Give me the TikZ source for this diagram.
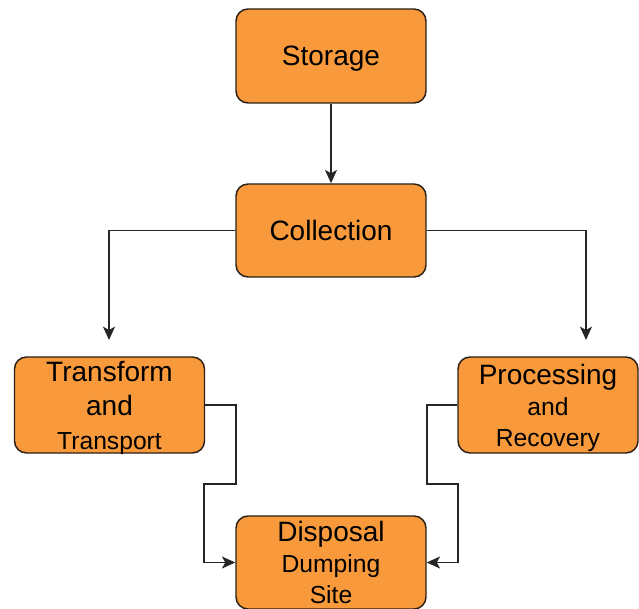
\documentclass[tikz,border=0pt]{standalone}
\usepackage{fontspec}
\setmainfont{Liberation Sans}
\usetikzlibrary{arrows.meta}
\definecolor{boxfill}{HTML}{F8993B}
\definecolor{boxline}{HTML}{2A2018}
\tikzset{
  box/.style={draw=boxline, line width=1.1pt, fill=boxfill, rounded corners=9pt,
    align=center, inner sep=0pt, text=black},
  txt/.style={align=center, inner sep=0pt, text=black},
  big/.style={font=\fontsize{21}{25.5}\selectfont},
  arr/.style={draw=black!85, line width=1.1pt, -{Stealth[length=10pt,width=9pt,inset=2.5pt]}},
}
\begin{document}
\begin{tikzpicture}[x=0.75pt,y=-0.75pt]
\useasboundingbox (0,0) rectangle (639,609);
\node[box,big,minimum width=142.5pt,minimum height=70.5pt,text depth=0pt] (stor) at (331,56) {Storage};
\node[box,big,minimum width=142.5pt,minimum height=69.75pt] (coll) at (331,230.5) {Collection};
\node[box,minimum width=142.5pt,minimum height=72pt] (trans) at (109.5,405) {};
\node[txt,font=\fontsize{21}{25.5}\selectfont] (transtxt) at (109.5,408)
  {Transform\\and\\{\fontsize{18.5}{25.5}\selectfont Transport}};
\node[box,minimum width=135pt,minimum height=72pt] (proc) at (548,405) {};
\node[txt,font=\fontsize{18.5}{23.25}\selectfont] (proctxt) at (548,408)
  {{\fontsize{21}{23.25}\selectfont Processing}\\and\\Recovery};
\node[box,minimum width=142.5pt,minimum height=69.75pt] (disp) at (331,562.5) {};
\node[txt,font=\fontsize{18.5}{23.5}\selectfont] (disptxt) at (331,562.5)
  {{\fontsize{21}{23.5}\selectfont Disposal}\\Dumping\\Site};
\coordinate (ta) at (109,340);
\coordinate (pa) at (586,340);
\coordinate (l1) at (236,484);
\coordinate (l2) at (204,484);
\coordinate (r1) at (427,484);
\coordinate (r2) at (458,484);
\draw[arr] (stor.south) -- (coll.north);
\draw[arr] (coll.west) -| (ta);
\draw[arr] (coll.east) -| (pa);
\draw[arr] (trans.east) -| (l1) -- (l2) |- (disp.west);
\draw[arr] (proc.west) -| (r1) -- (r2) |- (disp.east);
\end{tikzpicture}
\end{document}
